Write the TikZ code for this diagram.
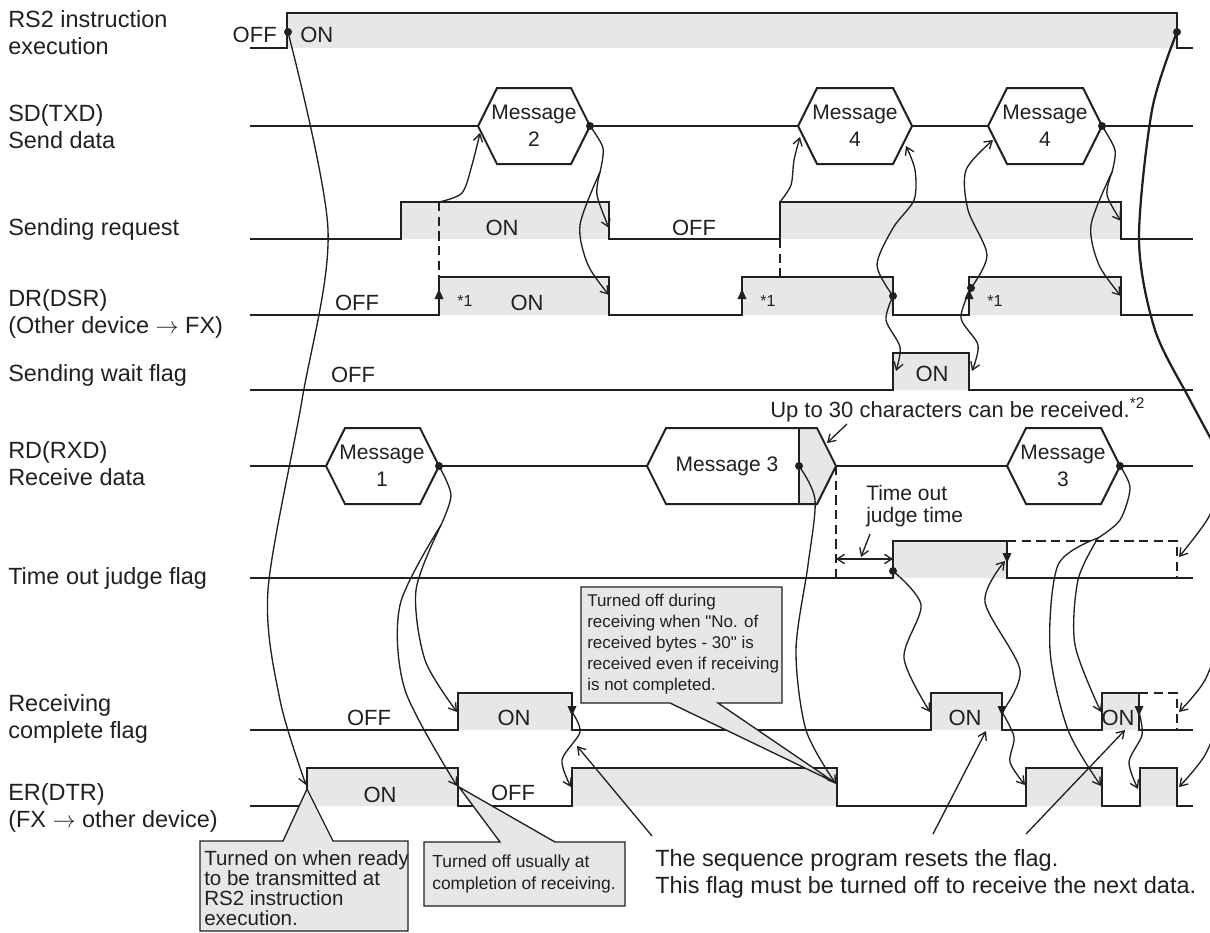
\documentclass[tikz,border=0pt]{standalone}
\usepackage{fontspec}
\setmainfont{Liberation Sans}
\usetikzlibrary{arrows.meta}
\definecolor{ink}{HTML}{231F20}
\definecolor{ongray}{HTML}{E6E7E8}
% small filled markers on edges
\newcommand{\uptri}[2]{\fill[ink] (#1,#2-5) -- (#1+4.5,#2+5) -- (#1-4.5,#2+5) -- cycle;}
\newcommand{\dntri}[2]{\fill[ink] (#1,#2+5) -- (#1+4.5,#2-5) -- (#1-4.5,#2-5) -- cycle;}
\newcommand{\hexa}[3]{(#1,#3) -- (#1+19,#3-38) -- (#2-19,#3-38) -- (#2,#3) -- (#2-19,#3+38) -- (#1+19,#3+38) -- cycle}
\begin{document}
\begin{tikzpicture}[x=0.75pt,y=-0.75pt,
    sigline/.style={draw=ink, line width=1.5pt},
    linkline/.style={draw=ink, line width=1pt},
    linkarrow/.style={linkline, -{Straight Barb[length=5.5pt,width=7pt]}},
    evdot/.style={circle, fill=ink, inner sep=0pt, minimum size=6pt},
    sidelabel/.style={text=ink, inner sep=0pt, align=left, font=\fontsize{17.6}{20.25}\selectfont},
    stlabel/.style={text=ink, inner sep=0pt, anchor=base, font=\fontsize{16.5}{19}\selectfont},
    msgtext/.style={text=ink, inner sep=0pt, align=center, font=\fontsize{15.75}{20}\selectfont},
    startext/.style={text=ink, inner sep=0pt, anchor=base, font=\fontsize{12}{14}\selectfont},
    callout/.style={fill=ongray, draw=ink, line width=1pt},
    calltext/.style={text=ink, inner sep=0pt, align=left, anchor=north west},
    dashline/.style={draw=ink, line width=1.1pt, dash pattern=on 7pt off 4pt}]
\useasboundingbox (0,0) rectangle (1210,932);

% signal names
\node[sidelabel, anchor=west] (lrs) at (8,33) {RS2 instruction\\execution};
\node[sidelabel, anchor=west] (lsd) at (8,127) {SD(TXD)\\Send data};
\node[sidelabel, anchor=base west] (lsr) at (8,235) {Sending request};
\node[sidelabel, anchor=west] (ldr) at (8,314) {DR(DSR)\\(Other device $\rightarrow$ FX)};
\node[sidelabel, anchor=base west] (lwt) at (8,381) {Sending wait flag};
\node[sidelabel, anchor=west] (lrd) at (8,464) {RD(RXD)\\Receive data};
\node[sidelabel, anchor=base west] (lto) at (8,584) {Time out judge flag};
\node[sidelabel, anchor=west] (lrc) at (8,719) {Receiving\\complete flag};
\node[sidelabel, anchor=west] (ler) at (8,808) {ER(DTR)\\(FX $\rightarrow$ other device)};

% shaded ON states
\fill[ongray] (287,13) rectangle (1177,48);
\fill[ongray] (401,202) rectangle (609,239);
\fill[ongray] (780,202) rectangle (1121,239);
\fill[ongray] (439,277) rectangle (609,315);
\fill[ongray] (742,277) rectangle (893,315);
\fill[ongray] (969,277) rectangle (1121,315);
\fill[ongray] (893,353) rectangle (969,390);
\fill[ongray] (893,541) rectangle (1007,578);
\fill[ongray] (458,693) rectangle (572,730);
\fill[ongray] (931,693) rectangle (1002,730);
\fill[ongray] (1102,693) rectangle (1139,730);
\fill[ongray] (307,768) rectangle (458,806);
\fill[ongray] (572,768) rectangle (837,806);
\fill[ongray] (1026,768) rectangle (1102,806);
\fill[ongray] (1140,768) rectangle (1177,806);

% waveforms
\draw[sigline] (250,48) -- (287,48) -- (287,13) -- (1177,13) -- (1177,48) -- (1193,48);
\draw[sigline] (250,126) -- (478,126) (590,126) -- (798,126) (912,126) -- (988,126) (1102,126) -- (1193,126);
\draw[sigline, fill=white] \hexa{478}{590}{126};
\draw[sigline, fill=white] \hexa{798}{912}{126};
\draw[sigline, fill=white] \hexa{988}{1102}{126};
\draw[sigline] (250,239) -- (401,239) -- (401,202) -- (609,202) -- (609,239) -- (780,239) -- (780,202) -- (1121,202) -- (1121,239) -- (1193,239);
\draw[sigline] (250,315) -- (439,315) -- (439,277) -- (609,277) -- (609,315) -- (742,315) -- (742,277) -- (893,277) -- (893,315) -- (969,315) -- (969,277) -- (1121,277) -- (1121,315) -- (1193,315);
\draw[dashline] (439,202) -- (439,277) (780,239) -- (780,277);
\draw[sigline] (250,390) -- (893,390) -- (893,353) -- (969,353) -- (969,390) -- (1193,390);
\draw[sigline] (250,466) -- (326,466) (439,466) -- (647,466) (836,466) -- (1007,466) (1120,466) -- (1193,466);
\draw[sigline, fill=white] \hexa{326}{439}{466};
\draw[sigline, fill=white] \hexa{1007}{1120}{466};
\fill[white] \hexa{647}{836}{466};
\fill[ongray] (799,428) -- (817,428) -- (836,466) -- (817,504) -- (799,504) -- cycle;
\draw[sigline] \hexa{647}{836}{466};
\draw[sigline] (799,428) -- (799,504);
\draw[sigline] (250,578) -- (893,578) -- (893,541) -- (1007,541) -- (1007,578) -- (1193,578);
\draw[dashline] (1007,541) -- (1177,541) -- (1177,578);
\draw[dashline] (836,466) -- (836,578);
\draw[sigline] (250,730) -- (458,730) -- (458,693) -- (572,693) -- (572,730) -- (931,730) -- (931,693) -- (1002,693) -- (1002,730) -- (1102,730) -- (1102,693) -- (1139,693) -- (1139,730) -- (1193,730);
\draw[dashline] (1139,693) -- (1177,693) -- (1177,730);
\draw[sigline] (250,806) -- (307,806) -- (307,768) -- (458,768) -- (458,806) -- (572,806) -- (572,768) -- (837,768) -- (837,806) -- (1026,806) -- (1026,768) -- (1102,768) -- (1102,806) -- (1140,806) -- (1140,768) -- (1177,768) -- (1177,806) -- (1193,806);

% state texts
\node[stlabel, anchor=base east] (rsoff) at (277,42) {OFF};
\node[stlabel, anchor=base west] (rson) at (300,42) {ON};
\node[stlabel] (sron) at (502,235) {ON};
\node[stlabel] (sroff) at (694,235) {OFF};
\node[stlabel] (droff) at (357,310) {OFF};
\node[stlabel] (dron) at (527,310) {ON};
\node[startext] (drs1) at (465,306) {*1};
\node[startext] (drs2) at (768,306) {*1};
\node[startext] (drs3) at (995,306) {*1};
\node[stlabel] (wtoff) at (353,382) {OFF};
\node[stlabel] (wton) at (932,381) {ON};
\node[stlabel] (rcoff) at (369,725) {OFF};
\node[stlabel] (rcon1) at (514,725) {ON};
\node[stlabel] (rcon2) at (965,725) {ON};
\node[stlabel] (rcon3) at (1118,725) {ON};
\node[stlabel] (eron) at (380,802) {ON};
\node[stlabel] (eroff) at (513,800) {OFF};

% messages
\node[msgtext] (msg2) at (534,126) {Message\\2};
\node[msgtext] (msg4a) at (855,126) {Message\\4};
\node[msgtext] (msg4b) at (1045,126) {Message\\4};
\node[msgtext] (msg1) at (382,466) {Message\\1};
\node[msgtext] (msg3a) at (727,466) {Message 3};
\node[msgtext] (msg3b) at (1063,466) {Message\\3};

% edge markers
\uptri{439}{294}
\uptri{742}{294}
\uptri{969}{294}
\dntri{572}{711}
\dntri{1002}{711}
\dntri{1139}{711}
\dntri{1007}{558}

% event dots
\node[evdot] (rsup) at (288,32) {};
\node[evdot] (rsdn) at (1177,32) {};
\node[evdot] (m2r) at (590,126) {};
\node[evdot] (m4br) at (1102,126) {};
\node[evdot] (drdn2) at (893,296) {};
\node[evdot] (drup3) at (971,288) {};
\node[evdot] (m1r) at (439,466) {};
\node[evdot] (m3d) at (799,466) {};
\node[evdot] (m3br) at (1120,466) {};
\node[evdot] (toup) at (893,571) {};

% connector ends
\coordinate (srup1) at (439,202);
\coordinate (m2in) at (480,133);
\coordinate (split2) at (600,172);
\coordinate (srdn1) at (609,228);
\coordinate (drdn1) at (609,295);
\coordinate (srup2) at (780,202);
\coordinate (m4ain) at (800,137);
\coordinate (m4aout) at (906,146);
\coordinate (wtup) at (896,371);
\coordinate (m4bin) at (993,140);
\coordinate (wtdn) at (972,371);
\coordinate (split4) at (1112,172);
\coordinate (srdn2) at (1121,221);
\coordinate (drdn3) at (1121,296);
\coordinate (split1) at (441,525);
\coordinate (rcup1) at (457,712);
\coordinate (erdn1) at (457,786);
\coordinate (rcdn1) at (572,712);
\coordinate (erup1) at (306,785);
\coordinate (erup2) at (571,787);
\coordinate (erdn2) at (836,784);
\coordinate (rcup2) at (930,712);
\coordinate (rcdn2) at (1002,712);
\coordinate (todn) at (1005,561);
\coordinate (erup3) at (1025,785);
\coordinate (split3) at (1098,538);
\coordinate (rcup3) at (1101,712);
\coordinate (erdn3) at (1101,786);
\coordinate (rcdn3) at (1139,712);
\coordinate (erup4) at (1138,789);
\coordinate (rsa) at (1228,470);
\coordinate (rsb) at (1226,480);
\coordinate (rsc) at (1226,625);
\coordinate (rsd) at (1226,705);
\coordinate (todash) at (1179,557);
\coordinate (rcdash) at (1179,712);
\coordinate (erdn4) at (1179,787);

% cause and effect
\draw[linkarrow] plot[smooth] coordinates {(rsup.center) (328,230) (302,400) (268,590) (280,700) (erup1)};
\draw[linkarrow] plot[smooth] coordinates {(srup1) (462,193) (472,165) (m2in)};
\draw[linkline] plot[smooth] coordinates {(m2r.center) (603,148) (split2)};
\draw[linkarrow] plot[smooth] coordinates {(split2) (597,195) (srdn1)};
\draw[linkarrow] plot[smooth] coordinates {(split2) (580,225) (588,265) (drdn1)};
\draw[linkarrow] plot[smooth] coordinates {(srup2) (791,185) (794,160) (m4ain)};
\draw[linkarrow] plot[smooth] coordinates {(drdn2.center) (877,265) (893,228) (914,200) (915,170) (m4aout)};
\draw[linkarrow] plot[smooth] coordinates {(drdn2.center) (886,320) (900,347) (wtup)};
\draw[linkarrow] plot[smooth] coordinates {(drup3.center) (987,255) (968,210) (966,170) (m4bin)};
\draw[linkarrow] plot[smooth] coordinates {(drup3.center) (961,318) (978,345) (wtdn)};
\draw[linkline] plot[smooth] coordinates {(m4br.center) (1115,150) (split4)};
\draw[linkarrow] plot[smooth] coordinates {(split4) (1107,195) (srdn2)};
\draw[linkarrow] plot[smooth] coordinates {(split4) (1091,225) (1099,265) (drdn3)};
\draw[linkline] plot[smooth] coordinates {(m1r.center) (451,495) (split1)};
\draw[linkarrow] plot[smooth] coordinates {(split1) (416,590) (425,660) (rcup1)};
\draw[linkarrow] plot[smooth] coordinates {(split1) (400,605) (405,690) (erdn1)};
\draw[linkarrow] plot[smooth] coordinates {(rcdn1) (580,732) (562,760) (erup2)};
\draw[linkarrow] plot[smooth] coordinates {(m3d.center) (815,500) (808,565) (796,650) (806,730) (erdn2)};
\draw[linkarrow] plot[smooth] coordinates {(toup.center) (921,605) (904,658) (rcup2)};
\draw[linkarrow] plot[smooth] coordinates {(rcdn2) (1020,670) (985,602) (todn)};
\draw[linkarrow] plot[smooth] coordinates {(rcdn2) (1014,737) (1010,762) (erup3)};
\draw[linkline] plot[smooth] coordinates {(m3br.center) (1130,488) (1120,520) (split3)};
\draw[linkarrow] plot[smooth] coordinates {(split3) (1078,580) (1075,645) (rcup3)};
\draw[linkarrow] plot[smooth] coordinates {(split3) (1058,565) (1050,650) (1068,730) (erdn3)};
\draw[linkarrow] plot[smooth] coordinates {(rcdn3) (1142,735) (1129,762) (erup4)};
\draw[draw=ink, line width=1.7pt] plot[smooth] coordinates {(rsdn.center) (1152,110) (1139,240) (1155,330) (1190,400) (rsa)};
\draw[linkarrow] plot[smooth] coordinates {(rsb) (1207,520) (todash)};
\draw[linkarrow] plot[smooth] coordinates {(rsc) (1205,680) (rcdash)};
\draw[linkarrow] plot[smooth] coordinates {(rsd) (1205,755) (erdn4)};

% time out judge time
\coordinate (tjl) at (836,559);
\coordinate (tjr) at (893,559);
\draw[linkline, {Straight Barb[length=5.5pt,width=7pt]}-{Straight Barb[length=5.5pt,width=7pt]}] (tjl) -- (tjr);
\node[calltext, font=\fontsize{15.75}{16.5}\selectfont] (tjtext) at (866,485) {Time out\\judge time};
\coordinate (tjfrom) at (870,534);
\coordinate (tjto) at (861,557);
\draw[linkarrow] (tjfrom) -- (tjto);

% up to 30 characters
\node[text=ink, inner sep=0pt, anchor=base west, font=\fontsize{16.5}{19}\selectfont] (upto) at (770,417) {Up to 30 characters can be received.\textsuperscript{*2}};
\coordinate (uptofrom) at (847,424);
\coordinate (uptoto) at (827,443);
\draw[linkarrow] (uptofrom) -- (uptoto);

% callouts
\draw[callout] (200,841) -- (283,841) -- (307,789) -- (333,841) -- (408,841) -- (408,931) -- (200,931) -- cycle;
\node[calltext, font=\fontsize{15.4}{15}\selectfont] (call1) at (204,850) {Turned on when ready\\to be transmitted at\\RS2 instruction\\execution.};
\draw[callout] (424,842) -- (500,842) -- (459,787) -- (555,842) -- (625,842) -- (625,906) -- (424,906) -- cycle;
\node[calltext, font=\fontsize{13.1}{16.5}\selectfont] (call2) at (432,855) {Turned off usually at\\completion of receiving.};
\draw[callout] (581,587) -- (782,587) -- (782,703) -- (718,703) -- (834,782) -- (670,703) -- (581,703) -- cycle;
\node[calltext, font=\fontsize{12.75}{15.75}\selectfont] (call3) at (587,594) {Turned off during\\receiving when \textquotedbl No. of\\received bytes - 30\textquotedbl\ is\\received even if receiving\\is not completed.};

% sequence program note
\node[calltext, font=\fontsize{17.6}{20.25}\selectfont] (seqnote) at (655,849) {The sequence program resets the flag.\\This flag must be turned off to receive the next data.};
\coordinate (sq1) at (652,836);
\coordinate (sq2) at (933,834);
\coordinate (sq3) at (1026,834);
\coordinate (rsta) at (577,746);
\coordinate (rstb) at (986,731);
\coordinate (rstc) at (1125,730);
\draw[linkarrow] (sq1) -- (rsta);
\draw[linkarrow] (sq2) -- (rstb);
\draw[linkarrow] (sq3) -- (rstc);
\end{tikzpicture}
\end{document}
